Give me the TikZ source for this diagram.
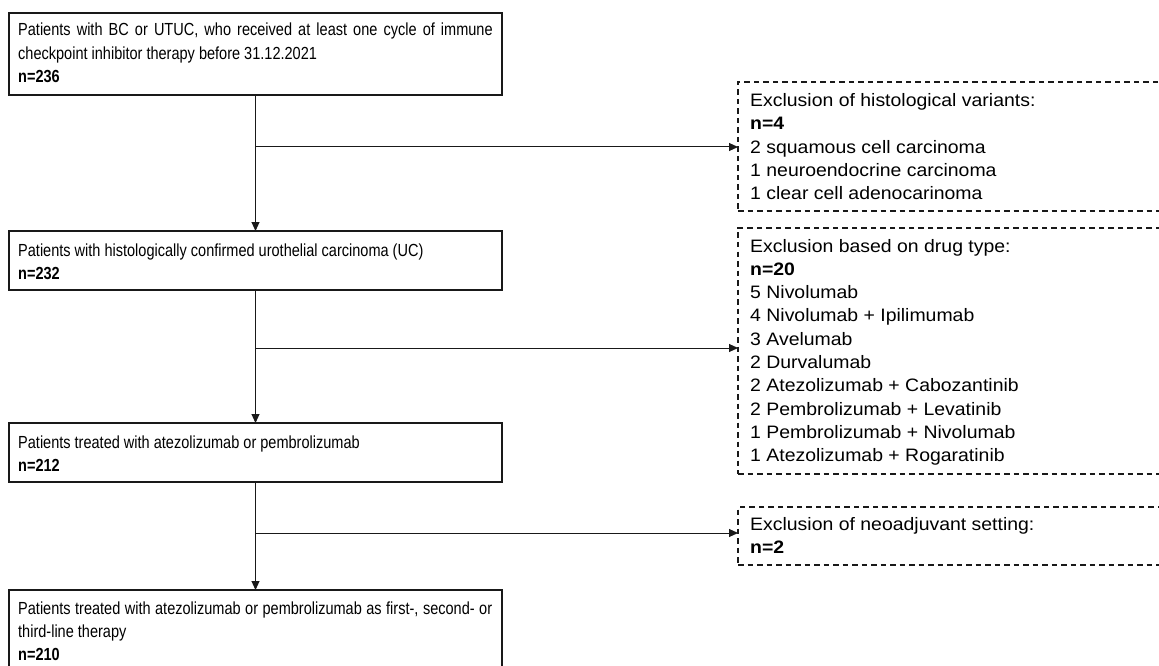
\documentclass[tikz,border=0pt]{standalone}
\usepackage{fontspec}
\newfontfamily\mfont{Liberation Sans}[FakeStretch=0.83]
\newfontfamily\dfont{Liberation Sans}[FakeStretch=1.08]
\usetikzlibrary{arrows.meta}
\definecolor{ln}{RGB}{25,25,25}
\tikzset{
  mainbox/.style={draw=ln, line width=1.6pt, minimum width=493pt, inner sep=0pt, outer sep=0pt},
  exbox/.style={draw=ln, line width=1.4pt, dash pattern=on 5.5pt off 4pt, minimum width=440pt, inner sep=0pt, outer sep=0pt},
  mtext/.style={anchor=base west, inner sep=0pt, font=\mfont\fontsize{17.5}{23.3}\selectfont},
  dtext/.style={anchor=base west, inner sep=0pt, font=\dfont\fontsize{18}{23.3}\selectfont},
  conn/.style={draw=ln, line width=1pt},
  arr/.style={conn, -{Triangle[length=9pt,width=8pt]}}
}
\begin{document}
\begin{tikzpicture}[x=1pt,y=-1pt]
\clip (0,0) rectangle (1159,666);
\fill[white] (0,0) rectangle (1159,666);
% main boxes
\node[mainbox, minimum height=82pt] (b1) at (255.5,54) {};
\node[mainbox, minimum height=59pt] (b2) at (255.5,260.5) {};
\node[mainbox, minimum height=59pt] (b3) at (255.5,452.5) {};
\node[mainbox, minimum height=100pt] (b4) at (255.5,640) {};
% exclusion boxes
\node[exbox, minimum height=129pt] (ea) at (958,146.5) {};
\node[exbox, minimum height=246pt] (eb) at (958,351) {};
\node[exbox, minimum height=58pt] (ec) at (958,536) {};
% main texts
\node[mtext] (t1) at (18,36) {\parbox[t]{480pt}{\makebox[474.5pt][s]{Patients with BC or UTUC, who received at least one cycle of immune}\\checkpoint inhibitor therapy before 31.12.2021\\\textbf{n=236}}};
\node[mtext] (t2) at (18,256) {\parbox[t]{480pt}{Patients with histologically confirmed urothelial carcinoma (UC)\\\textbf{n=232}}};
\node[mtext] (t3) at (18,448) {\parbox[t]{480pt}{Patients treated with atezolizumab or pembrolizumab\\\textbf{n=212}}};
\node[mtext] (t4) at (18,614) {\parbox[t]{480pt}{\makebox[474pt][s]{Patients treated with atezolizumab or pembrolizumab as first-, second- or}\\third-line therapy\\\textbf{n=210}}};
% exclusion texts
\node[dtext] (ta) at (750,106.5) {\parbox[t]{400pt}{Exclusion of histological variants:\\\textbf{n=4}\\2 squamous cell carcinoma\\1 neuroendocrine carcinoma\\1 clear cell adenocarinoma}};
\node[dtext] (tb) at (750,252) {\parbox[t]{400pt}{Exclusion based on drug type:\\\textbf{n=20}\\5 Nivolumab\\4 Nivolumab + Ipilimumab\\3 Avelumab\\2 Durvalumab\\2 Atezolizumab + Cabozantinib\\2 Pembrolizumab + Levatinib\\1 Pembrolizumab + Nivolumab\\1 Atezolizumab + Rogaratinib}};
\node[dtext] (tc) at (750,530) {\parbox[t]{400pt}{Exclusion of neoadjuvant setting:\\\textbf{n=2}}};
% connectors
\draw[arr] (b1.south) -- (b2.north);
\draw[arr] (b2.south) -- (b3.north);
\draw[arr] (b3.south) -- (b4.north);
\path (b1.south) ++(0,52) coordinate (j1);
\path (b2.south) ++(0,58) coordinate (j2);
\path (b3.south) ++(0,51) coordinate (j3);
\draw[arr] (j1) -- (j1 -| ea.west);
\draw[arr] (j2) -- (j2 -| eb.west);
\draw[arr] (j3) -- (j3 -| ec.west);
\end{tikzpicture}
\end{document}
